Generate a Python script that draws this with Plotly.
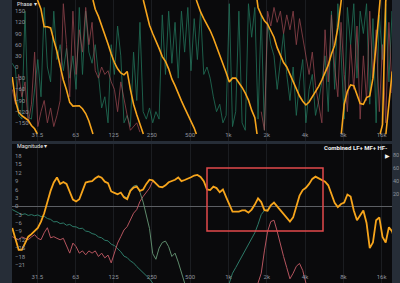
import math
import plotly.graph_objects as go

# ---------------- data ----------------
# 1/12-octave measurement grid (Hz)
FREQ = [20 * 2 ** (k / 12) for k in range(121)]

TICK_VALS = [31.5, 63, 125, 250, 500, 1000, 2000, 4000, 8000, 16000]
TICK_TEXT = ["31.5", "63", "125", "250", "500", "1k", "2k", "4k", "8k", "16k"]

# Combined magnitude (dB)
MAG_COMBINED = [
    -7.8, -12, -15.6, -15.6, -13, -10.9, -10, -8.8, -7.8, -5.5,
    -2.5, 1.5, 5.5, 8.5, 10.3, 8, 8.7, 8, 5.5, 2.4,
    1.7, 2.5, 5.5, 8.5, 8.8, 9, 10, 10.7, 10.2, 8.8,
    8.3, 5.3, 4.8, 4.3, 4.9, 3.2, 2.5, 5.5, 6.7, 7,
    5.5, 6, 8, 9.5, 9.3, 8.3, 7, 6.8, 7.5, 8.6,
    9, 9.5, 10.3, 9, 9.4, 9.8, 10.4, 11, 11.2, 10.5,
    9, 6, 5.8, 7, 6.5, 5, 6, 3.3, 0.6, -1.9,
    -1.9, -1.9, -1.5, -1.5, -2.3, -1.2, 0.6, 2.8, 1.5, -1.4,
    -1.6, 0.3, 1.3, -0.1, -1.2, -2.6, -4.3, -5.5, -4, 0,
    3.8, 5.8, 6.6, 8, 9.8, 10.6, 10, 9.3, 8.8, 7.5,
    4.5, 1.2, -0.3, 0.8, 1.3, 4.2, 3.5, -1.5, -5, -3,
    -1.5, -6, -15, -13, -5, -4, -11, -13, -7.5, -9, -13,
]

# LF magnitude (dB)
MAG_LF = [
    -1.2, -1.8, -2.6, -3, -2.7, -3.3, -3, -3.4, -3.1, -3.7,
    -3.6, -4.4, -4.7, -5.6, -5.5, -6.2, -6, -6.8, -6.5, -7.3,
    -7.4, -8, -7.9, -8.9, -9.1, -9.8, -10.1, -11, -11.3, -12.2,
    -12.4, -13.6, -14.1, -15.2, -16.3, -17.9, -18.4, -19.6, -20.3, -21.6,
    -22.7, -23.6, -24.8, -26, -27.5,
] + [None] * 76

# MF magnitude (dB)
MAG_MF = [
    -10.9, -11.5, -12, -11, -11.5, -12, -11, -10.2, -11.5, -12,
    -9.5, -7.7, -11.3, -10.9, -11.5, -12, -11.5, -14.5, -16.8, -13.2,
    -14.5, -16.8, -16, -17.4, -16, -16.8, -16, -18, -16.8, -18.5,
    -17.5, -20.3, -17, -13.2, -10.9, -8.5, -7.3, -4.8, -2.5, -1.2,
    1.7, 3.5, 4.9, 6.5, 9.0, 8.3,
] + [None] * 31 + [
    -27.5, -24, -16, -9, -5.5, -5, -9, -14, -18, -22,
    -26, -24, -21.5, -20.5, -23, -27.5,
] + [None] * 28

# MF low-pass branch (dB)
MAG_MF_LP = [None] * 35 + [
    3.5, 3, 6, 7.2, 7.5, 5, 1.5, -3, -8, -17,
    -19, -15, -13, -12.5, -14.5, -18, -16.8, -20, -24, -27.5,
] + [None] * 66

# HF magnitude (dB)
MAG_HF = [None] * 68 + [
    -27.5, -24, -22, -20, -18, -16, -14, -12, -9.5, -6.5,
    -3, -1.5, -1.2, 0.4,
] + [None] * 39

# Combined phase, unwrapped (deg)
PHASE_COMBINED = [
    -27, -90, -122, -131, -137, -143, -157, -166, -182, -205,
    -252, -252, -255, -288, -318, -357, -395, -422, -455, -465,
    -464, -464, -472, -485, -505, -530, -565, -584, -608, -630,
    -658, -685, -708, -725, -736, -741, -732, -780, -820, -848,
    -872, -898, -934, -968, -990, -1008, -1030, -1052, -1065, -1085,
    -1112, -1130, -1152, -1171, -1190, -1208, -1225, -1244, -1268, -1292,
    -1310, -1325, -1342, -1362, -1385, -1405, -1432, -1455, -1480, -1470,
    -1470, -1482, -1495, -1510, -1529, -1556, -1576, -1640, -1660, -1676,
    -1685, -1705, -1720, -1748, -1767, -1788, -1800, -1820, -1842, -1860,
    -1878, -1892, -1902, -1894, -1880, -1868, -1852, -1835, -1817, -1795,
    -1765, -1742, -1695, -1628, -1540, -1505, -1488, -1490, -1515, -1538,
    -1540, -1522, -1518, -1470, -1380, -1268, -1235, -905, -820, -735, -740,
]

# LF phase (deg, wrapped)
PHASE_LF = [
    10, -5, -130, -140, 150, -135, -140, -60, 20, -80,
    160, 0, -40, 150, 20, 60, -10, 50, -30, 30,
    -60, 160, -20, 150, 40, 10, 60, -20, -110, -80,
    -150, 60, -20, 110, 30, -150, -130, -160, 40, -90,
    120, -120, -140, -110, -150, -120, -140, 140, -20, 150,
    10, 120, -30, 150, 40, 160, -10, 130, 20, 150,
    -20, 0, -30, -80, -120, -100, -150, -130, 170, -160,
    -120, 150, -150, -170, 170, 80, 160, -140, 140, -170,
    120, 60, 30, -60, 10, 90, -20, -90, 0, -130,
    -40, 20, -150, -60, -20, -130, -90, -40, 30, -120,
    150, -60, 170, 40, -140, 160, 60, 170, -30, 150,
    90, 170, -100, 130, -150, 140, 20, 170, -40, 150, 20,
]

# MF phase (deg, wrapped)
PHASE_MF = [
    -60, -100, -20, -80, -40, -150, -100, 40, -160, -120,
    -90, -150, -110, -160, -130, -90, 170, 60, -80, 150,
    -20, 100, 40, 160, 60, 120, -10, -30, 0, -20,
    -10, -40, -60, -120, -40, -90, -130, -170, -160, -150,
    -175,
] + [None] * 37 + [
    -120, -170, 150, 110, 160, 120, 150, 90, 140, 100,
    150, 60, 130, 80, 30, -20, 40, -50, -100, -150,
    100, -40, 140, 0, -80, 120, -20, -120, 60, -60,
    110, -140, 30, -90, 150, -30, 100, -120, 60, -150,
    120, -70, 40,
]


# ---------------- helpers ----------------
def wrap_phase(freqs, unwrapped):
    """Wrap to [-180, 180) and break the line at each wrap."""
    def w(u):
        return ((u + 180) % 360) - 180

    def band(u):
        return math.floor((u + 180) / 360)

    xs, ys = [], []
    for i, (f, u) in enumerate(zip(freqs, unwrapped)):
        if i > 0:
            f0, u0 = freqs[i - 1], unwrapped[i - 1]
            n0, n1 = band(u0), band(u)
            if n0 != n1:
                b = -180 + 360 * max(n0, n1)
                t = (b - u0) / (u - u0)
                fc = math.exp(math.log(f0) + t * (math.log(f) - math.log(f0)))
                if u > u0:
                    xs += [fc, None, fc]
                    ys += [180, None, -180]
                else:
                    xs += [fc, None, fc]
                    ys += [-180, None, 180]
        xs.append(f)
        ys.append(w(u))
    return xs, ys


# ---------------- figure ----------------
ORANGE = "#f7a51c"
TEAL = "#2a9a76"
TEAL_DARK = "#2d7a68"
RED = "#b5545e"
GREYGREEN = "#5e8a6c"

fig = go.Figure()

# Top: phase
fig.add_trace(go.Scatter(x=FREQ, y=PHASE_LF, mode="lines",
                         line=dict(color=TEAL, width=0.9), opacity=0.65,
                         xaxis="x", yaxis="y", showlegend=False))
fig.add_trace(go.Scatter(x=FREQ, y=PHASE_MF, mode="lines",
                         line=dict(color=RED, width=0.9), opacity=0.7,
                         xaxis="x", yaxis="y", showlegend=False))
px_, py_ = wrap_phase(FREQ, PHASE_COMBINED)
fig.add_trace(go.Scatter(x=px_, y=py_, mode="lines",
                         line=dict(color=ORANGE, width=1.6),
                         xaxis="x", yaxis="y", showlegend=False))

# Bottom: magnitude
fig.add_trace(go.Scatter(x=FREQ, y=MAG_LF, mode="lines",
                         line=dict(color=TEAL_DARK, width=1),
                         xaxis="x2", yaxis="y2", showlegend=False))
fig.add_trace(go.Scatter(x=FREQ, y=MAG_MF, mode="lines",
                         line=dict(color=RED, width=1),
                         xaxis="x2", yaxis="y2", showlegend=False))
fig.add_trace(go.Scatter(x=FREQ, y=MAG_MF_LP, mode="lines",
                         line=dict(color=GREYGREEN, width=1),
                         xaxis="x2", yaxis="y2", showlegend=False))
fig.add_trace(go.Scatter(x=FREQ, y=MAG_HF, mode="lines",
                         line=dict(color=TEAL_DARK, width=1),
                         xaxis="x2", yaxis="y2", showlegend=False))
fig.add_trace(go.Scatter(x=FREQ, y=MAG_COMBINED, mode="lines",
                         line=dict(color=ORANGE, width=1.8),
                         xaxis="x2", yaxis="y2", showlegend=False))

W, H = 400, 283
ML, MR = 12, 8
tickfont = dict(family="Roboto, sans-serif", size=6, color="#8d939c")
xr = [math.log10(19.9), math.log10(19300)]

xcommon = dict(type="log", range=xr, tickvals=TICK_VALS, ticktext=TICK_TEXT,
               ticklabelposition="inside", ticks="", showgrid=True,
               gridcolor="#1b1d21", gridwidth=1, zeroline=False,
               showline=False, tickfont=tickfont, fixedrange=True)

top_dom = [1 - 141 / H, 1]
bot_dom = [0, 1 - 144 / H]

fig.update_layout(
    width=W, height=H,
    margin=dict(l=ML, r=MR, t=0, b=0),
    paper_bgcolor="#262d37",
    plot_bgcolor="#0a0a0c",
    xaxis=dict(**xcommon, domain=[0, 1], anchor="y"),
    yaxis=dict(domain=top_dom, range=[-198.8, 180], anchor="x",
               tickvals=list(range(-150, 151, 30)),
               ticklabelposition="inside", ticks="", showgrid=False,
               zeroline=False, showline=False, tickfont=tickfont),
    xaxis2=dict(**xcommon, domain=[0, 1], anchor="y2"),
    yaxis2=dict(domain=bot_dom, range=[-27.5, 22.3], anchor="x2",
                tickvals=list(range(-21, 22, 3)),
                ticklabelposition="inside", ticks="", showgrid=False,
                zeroline=True, zerolinecolor="#5c5f64", zerolinewidth=1,
                showline=False, tickfont=tickfont),
    yaxis3=dict(overlaying="y2", side="right", anchor="x2",
                range=[-118, 97], tickvals=[20, 40, 60, 80],
                ticks="", showgrid=False, zeroline=False, showline=False,
                tickfont=dict(family="Roboto, sans-serif", size=5.5,
                              color="#8d939c")),
    showlegend=False,
)

# empty trace so the right axis is rendered
fig.add_trace(go.Scatter(x=[None], y=[None], xaxis="x2", yaxis="y3",
                         showlegend=False, hoverinfo="skip"))


def px_x(p):
    return (p - ML) / (W - ML - MR)


def px_y(p):
    return 1 - p / H


fig.add_annotation(text="Phase ▾", xref="paper", yref="paper",
                   x=px_x(15), y=px_y(4.2), xanchor="left", yanchor="middle",
                   showarrow=False,
                   font=dict(family="Roboto, sans-serif", size=5.5, color="#e6e6e6"))
fig.add_annotation(text="Magnitude ▾", xref="paper", yref="paper",
                   x=px_x(15), y=px_y(145.6), xanchor="left", yanchor="middle",
                   showarrow=False,
                   font=dict(family="Roboto, sans-serif", size=5.5, color="#e6e6e6"))
fig.add_annotation(text="<b>Combined LF+ MF+ HF-</b>", xref="paper", yref="paper",
                   x=px_x(389), y=px_y(147.5), xanchor="right", yanchor="middle",
                   showarrow=False,
                   font=dict(family="Roboto, sans-serif", size=6, color="#f0f0f0"))
fig.add_annotation(text="▶", xref="paper", yref="paper",
                   x=px_x(387.5), y=px_y(155), xanchor="center", yanchor="middle",
                   showarrow=False,
                   font=dict(family="DejaVu Sans", size=6, color="#f0f0f0"))

# highlight box
fig.add_shape(type="rect", xref="paper", yref="paper",
              x0=px_x(207), x1=px_x(323), y0=px_y(231), y1=px_y(168),
              line=dict(color="#e2494b", width=1.5), fillcolor="rgba(0,0,0,0)")

fig.write_html("out.html", config={"displayModeBar": False})
